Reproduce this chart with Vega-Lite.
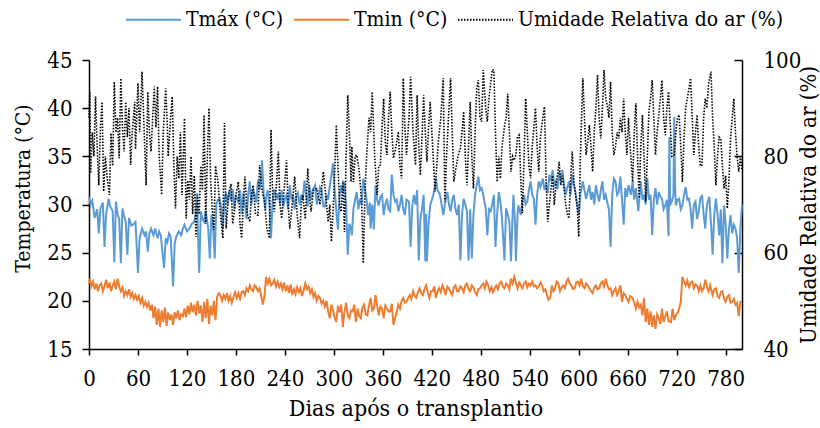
{
"$schema":"https://vega.github.io/schema/vega-lite/v6.json",
"width":653,"height":289,
"autosize":{"type":"none"},
"padding":{"left":89,"top":60,"right":78,"bottom":79},
"background":"white",
"config":{"view":{"stroke":null},"font":"DejaVu Serif Condensed, DejaVu Serif",
"axis":{"labelFont":"DejaVu Serif Condensed, DejaVu Serif","titleFont":"DejaVu Serif Condensed, DejaVu Serif","labelColor":"#000","titleColor":"#000","domainColor":"#000","tickColor":"#000","domainWidth":1.5,"tickWidth":1.5,"grid":false,"labelFontSize":22,"titleFontSize":22,"titleFontWeight":"normal"},
"legend":{"labelFont":"DejaVu Serif Condensed, DejaVu Serif","labelFontSize":21,"labelColor":"#000","labelLimit":0}},
"datasets":{
"tx":[{"d":0,"v":30.8},{"d":2,"v":30.0},{"d":4,"v":30.4},{"d":7,"v":28.6},{"d":10,"v":29.5},{"d":12,"v":27.0},{"d":14,"v":29.6},{"d":17,"v":30.2},{"d":19,"v":25.6},{"d":21,"v":29.0},{"d":24,"v":30.6},{"d":26,"v":29.8},{"d":29,"v":29.3},{"d":31,"v":24.0},{"d":33,"v":30.3},{"d":35,"v":29.0},{"d":37,"v":28.5},{"d":39,"v":23.9},{"d":41,"v":29.6},{"d":43,"v":28.8},{"d":45,"v":28.2},{"d":47,"v":24.8},{"d":49,"v":28.6},{"d":52,"v":27.8},{"d":55,"v":28.0},{"d":57,"v":28.2},{"d":60,"v":22.9},{"d":62,"v":26.5},{"d":65,"v":27.5},{"d":68,"v":26.8},{"d":70,"v":27.2},{"d":72,"v":25.1},{"d":74,"v":27.0},{"d":76,"v":27.5},{"d":79,"v":26.8},{"d":81,"v":27.5},{"d":84,"v":26.5},{"d":86,"v":27.2},{"d":88,"v":26.8},{"d":90,"v":25.0},{"d":92,"v":23.4},{"d":94,"v":26.5},{"d":96,"v":26.1},{"d":98,"v":27.0},{"d":100,"v":26.7},{"d":103,"v":21.5},{"d":105,"v":26.0},{"d":107,"v":26.7},{"d":110,"v":27.2},{"d":113,"v":26.8},{"d":115,"v":27.5},{"d":117,"v":27.9},{"d":120,"v":27.2},{"d":123,"v":27.5},{"d":126,"v":28.0},{"d":129,"v":28.2},{"d":131,"v":29.0},{"d":132,"v":31.2},{"d":135,"v":22.9},{"d":137,"v":29.3},{"d":139,"v":28.5},{"d":141,"v":28.2},{"d":143,"v":29.3},{"d":146,"v":27.5},{"d":148,"v":24.4},{"d":150,"v":28.9},{"d":152,"v":27.8},{"d":154,"v":24.4},{"d":156,"v":30.0},{"d":158,"v":30.5},{"d":160,"v":30.6},
{"d":162,"v":29.8},{"d":164,"v":27.5},{"d":166,"v":30.5},{"d":168,"v":31.2},{"d":170,"v":30.0},{"d":172,"v":31.5},{"d":174,"v":30.4},{"d":176,"v":31.6},{"d":178,"v":29.5},{"d":180,"v":31.0},{"d":183,"v":30.2},{"d":185,"v":31.5},{"d":187,"v":29.0},{"d":189,"v":31.2},{"d":191,"v":30.0},{"d":193,"v":28.5},{"d":195,"v":31.0},{"d":197,"v":32.4},{"d":199,"v":30.0},{"d":201,"v":31.5},{"d":203,"v":31.0},{"d":205,"v":30.2},{"d":207,"v":32.5},{"d":209,"v":31.5},{"d":211,"v":33.0},{"d":212,"v":34.6},{"d":214,"v":31.0},{"d":216,"v":29.5},{"d":217,"v":30.8},{"d":219,"v":31.5},{"d":221,"v":30.0},{"d":223,"v":26.5},{"d":225,"v":30.5},{"d":227,"v":31.6},{"d":230,"v":30.5},{"d":232,"v":31.2},{"d":234,"v":30.0},{"d":236,"v":31.5},{"d":238,"v":29.8},{"d":240,"v":30.6},{"d":242,"v":31.0},{"d":244,"v":29.5},{"d":246,"v":32.0},{"d":248,"v":30.5},{"d":250,"v":31.0},{"d":252,"v":29.5},{"d":254,"v":30.8},{"d":256,"v":31.2},{"d":258,"v":30.0},{"d":260,"v":31.0},{"d":262,"v":30.5},{"d":264,"v":32.5},{"d":266,"v":31.0},{"d":268,"v":29.8},{"d":270,"v":32.0},{"d":272,"v":30.5},{"d":274,"v":31.5},{"d":277,"v":32.0},{"d":279,"v":30.0},{"d":281,"v":30.8},{"d":283,"v":31.8},{"d":285,"v":31.5},{"d":287,"v":29.8},{"d":289,"v":29.8},{"d":291,"v":31.0},{"d":293,"v":30.5},{"d":295,"v":32.0},{"d":297,"v":33.0},{"d":299,"v":34.3},{"d":301,"v":31.5},{"d":303,"v":29.3},{"d":305,"v":27.4},{"d":307,"v":31.0},{"d":309,"v":32.0},{"d":311,"v":31.2},{"d":313,"v":32.4},{"d":315,"v":30.0},{"d":317,"v":24.8},{"d":319,"v":28.0},{"d":321,"v":27.5},
{"d":322,"v":26.8},{"d":324,"v":29.6},{"d":326,"v":30.5},{"d":328,"v":31.3},{"d":330,"v":29.5},{"d":332,"v":30.6},{"d":334,"v":30.0},{"d":336,"v":32.7},{"d":338,"v":31.7},{"d":340,"v":30.5},{"d":342,"v":28.9},{"d":344,"v":30.2},{"d":345,"v":27.5},{"d":347,"v":30.0},{"d":349,"v":27.4},{"d":351,"v":32.0},{"d":353,"v":30.5},{"d":355,"v":29.9},{"d":357,"v":30.8},{"d":359,"v":31.0},{"d":361,"v":28.9},{"d":363,"v":30.0},{"d":365,"v":30.6},{"d":367,"v":29.5},{"d":369,"v":29.3},{"d":371,"v":33.1},{"d":373,"v":31.0},{"d":375,"v":30.3},{"d":377,"v":30.5},{"d":379,"v":29.3},{"d":381,"v":30.0},{"d":383,"v":31.0},{"d":385,"v":29.5},{"d":387,"v":28.9},{"d":389,"v":30.5},{"d":392,"v":30.3},{"d":394,"v":25.6},{"d":396,"v":29.8},{"d":398,"v":31.0},{"d":400,"v":30.0},{"d":402,"v":31.5},{"d":404,"v":24.2},{"d":406,"v":28.5},{"d":408,"v":29.6},{"d":410,"v":31.0},{"d":412,"v":24.1},{"d":413,"v":29.0},{"d":414,"v":24.1},{"d":416,"v":28.0},{"d":418,"v":29.9},{"d":420,"v":30.5},{"d":422,"v":31.0},{"d":425,"v":32.7},{"d":427,"v":31.5},{"d":430,"v":31.0},{"d":432,"v":30.0},{"d":434,"v":28.9},{"d":437,"v":30.5},{"d":439,"v":31.3},{"d":441,"v":30.0},{"d":443,"v":29.3},{"d":445,"v":30.5},{"d":447,"v":31.0},{"d":449,"v":29.5},{"d":451,"v":28.9},{"d":453,"v":30.0},{"d":455,"v":24.2},{"d":457,"v":29.0},{"d":459,"v":30.6},{"d":461,"v":30.0},{"d":463,"v":29.3},{"d":465,"v":24.2},{"d":467,"v":29.5},{"d":469,"v":24.4},{"d":471,"v":29.0},{"d":473,"v":31.0},{"d":475,"v":32.0},{"d":477,"v":32.9},{"d":479,"v":31.5},{"d":481,"v":31.7},{"d":483,"v":31.0},
{"d":486,"v":29.6},{"d":488,"v":26.8},{"d":490,"v":29.5},{"d":492,"v":29.3},{"d":494,"v":30.0},{"d":496,"v":31.0},{"d":498,"v":25.6},{"d":500,"v":29.0},{"d":502,"v":31.3},{"d":504,"v":30.3},{"d":506,"v":28.5},{"d":509,"v":24.2},{"d":511,"v":29.6},{"d":513,"v":29.0},{"d":515,"v":28.2},{"d":517,"v":24.1},{"d":519,"v":29.0},{"d":520,"v":31.0},{"d":522,"v":28.0},{"d":523,"v":24.1},{"d":525,"v":29.0},{"d":526,"v":29.9},{"d":529,"v":28.9},{"d":531,"v":30.5},{"d":533,"v":31.0},{"d":535,"v":30.0},{"d":537,"v":30.3},{"d":539,"v":31.5},{"d":541,"v":32.4},{"d":543,"v":31.0},{"d":545,"v":30.6},{"d":547,"v":27.9},{"d":549,"v":31.0},{"d":551,"v":32.4},{"d":553,"v":31.8},{"d":556,"v":32.7},{"d":558,"v":31.5},{"d":560,"v":32.0},{"d":562,"v":31.2},{"d":564,"v":33.1},{"d":566,"v":32.4},{"d":568,"v":33.6},{"d":570,"v":32.0},{"d":572,"v":32.4},{"d":574,"v":31.6},{"d":576,"v":33.4},{"d":578,"v":32.5},{"d":580,"v":33.6},{"d":582,"v":32.0},{"d":584,"v":31.0},{"d":586,"v":31.8},{"d":588,"v":32.4},{"d":590,"v":31.0},{"d":592,"v":33.1},{"d":594,"v":32.0},{"d":596,"v":31.3},{"d":598,"v":30.0},{"d":600,"v":28.9},{"d":602,"v":31.0},{"d":605,"v":32.4},{"d":607,"v":31.5},{"d":609,"v":30.6},{"d":611,"v":31.3},{"d":613,"v":32.0},{"d":615,"v":30.5},{"d":617,"v":31.3},{"d":619,"v":30.0},{"d":621,"v":32.0},{"d":623,"v":31.0},{"d":625,"v":30.3},{"d":627,"v":31.5},{"d":629,"v":32.4},{"d":631,"v":30.5},{"d":633,"v":31.0},{"d":635,"v":30.2},{"d":637,"v":29.5},{"d":639,"v":25.6},{"d":641,"v":31.0},{"d":643,"v":32.7},{"d":645,"v":32.4},
{"d":647,"v":31.0},{"d":649,"v":31.3},{"d":651,"v":32.9},{"d":653,"v":30.5},{"d":655,"v":27.9},{"d":657,"v":31.7},{"d":659,"v":30.8},{"d":661,"v":32.0},{"d":664,"v":31.0},{"d":666,"v":32.4},{"d":668,"v":30.5},{"d":670,"v":31.7},{"d":673,"v":29.3},{"d":676,"v":32.4},{"d":678,"v":30.5},{"d":680,"v":31.0},{"d":682,"v":30.0},{"d":684,"v":32.7},{"d":686,"v":30.5},{"d":688,"v":31.0},{"d":690,"v":26.8},{"d":692,"v":30.5},{"d":694,"v":31.7},{"d":696,"v":30.0},{"d":698,"v":31.3},{"d":700,"v":30.8},{"d":702,"v":30.6},{"d":704,"v":29.5},{"d":706,"v":29.9},{"d":708,"v":30.5},{"d":710,"v":26.7},{"d":711,"v":37.0},{"d":712,"v":30.0},{"d":714,"v":30.3},{"d":716,"v":31.0},{"d":717,"v":39.1},{"d":718,"v":32.0},{"d":719,"v":29.9},{"d":721,"v":30.5},{"d":723,"v":30.6},{"d":725,"v":29.5},{"d":727,"v":29.9},{"d":729,"v":31.0},{"d":731,"v":31.8},{"d":733,"v":30.5},{"d":735,"v":30.6},{"d":737,"v":29.5},{"d":739,"v":27.5},{"d":741,"v":30.0},{"d":743,"v":30.3},{"d":745,"v":28.5},{"d":747,"v":29.3},{"d":749,"v":30.6},{"d":751,"v":31.0},{"d":753,"v":29.0},{"d":755,"v":27.5},{"d":757,"v":30.0},{"d":760,"v":30.8},{"d":762,"v":28.0},{"d":764,"v":24.8},{"d":766,"v":29.0},{"d":768,"v":30.6},{"d":770,"v":29.0},{"d":772,"v":26.8},{"d":774,"v":29.5},{"d":776,"v":23.9},{"d":778,"v":29.9},{"d":780,"v":28.0},{"d":782,"v":24.4},{"d":784,"v":27.5},{"d":786,"v":28.9},{"d":788,"v":27.0},{"d":790,"v":27.9},{"d":792,"v":27.5},{"d":794,"v":26.5},{"d":796,"v":22.9},{"d":798,"v":27.5},{"d":800,"v":30.0}],
"tn":[{"d":0,"v":21.8},{"d":1,"v":22.3},{"d":3,"v":21.5},{"d":5,"v":22.0},{"d":7,"v":21.2},{"d":9,"v":21.8},{"d":11,"v":21.0},{"d":13,"v":21.6},{"d":15,"v":21.8},{"d":17,"v":21.0},{"d":19,"v":21.5},{"d":21,"v":22.2},{"d":23,"v":21.3},{"d":25,"v":21.9},{"d":27,"v":21.0},{"d":29,"v":21.6},{"d":31,"v":22.0},{"d":33,"v":21.2},{"d":35,"v":22.3},{"d":37,"v":21.5},{"d":39,"v":21.0},{"d":41,"v":21.4},{"d":43,"v":20.5},{"d":45,"v":21.0},{"d":47,"v":20.6},{"d":49,"v":21.2},{"d":51,"v":20.4},{"d":53,"v":20.8},{"d":55,"v":20.2},{"d":57,"v":20.6},{"d":59,"v":20.1},{"d":61,"v":20.5},{"d":63,"v":19.8},{"d":65,"v":20.3},{"d":67,"v":19.5},{"d":69,"v":19.9},{"d":71,"v":19.4},{"d":73,"v":19.8},{"d":75,"v":19.0},{"d":77,"v":19.6},{"d":79,"v":18.2},{"d":81,"v":19.4},{"d":83,"v":17.5},{"d":85,"v":19.2},{"d":87,"v":17.3},{"d":89,"v":19.0},{"d":91,"v":17.8},{"d":93,"v":19.3},{"d":95,"v":17.4},{"d":97,"v":18.8},{"d":99,"v":18.0},{"d":101,"v":18.6},{"d":103,"v":17.5},{"d":105,"v":18.8},{"d":107,"v":18.2},{"d":109,"v":19.0},{"d":111,"v":18.0},{"d":113,"v":18.6},{"d":115,"v":18.4},{"d":117,"v":19.2},{"d":119,"v":18.3},{"d":121,"v":19.5},{"d":123,"v":18.6},{"d":125,"v":19.8},{"d":127,"v":18.8},{"d":129,"v":19.6},{"d":131,"v":18.5},{"d":133,"v":20.0},{"d":135,"v":18.7},{"d":137,"v":19.5},{"d":139,"v":17.8},{"d":141,"v":19.9},{"d":143,"v":18.2},{"d":145,"v":20.2},{"d":147,"v":17.6},{"d":149,"v":19.5},{"d":151,"v":18.5},{"d":153,"v":20.0},{"d":155,"v":18.0},{"d":157,"v":20.4},{"d":159,"v":20.8},
{"d":161,"v":20.6},{"d":163,"v":20.0},{"d":165,"v":20.6},{"d":167,"v":20.2},{"d":169,"v":20.8},{"d":171,"v":20.0},{"d":173,"v":20.5},{"d":175,"v":19.8},{"d":177,"v":20.4},{"d":179,"v":20.9},{"d":181,"v":20.3},{"d":183,"v":20.8},{"d":185,"v":20.2},{"d":187,"v":20.9},{"d":189,"v":21.0},{"d":191,"v":20.6},{"d":193,"v":21.3},{"d":195,"v":21.0},{"d":197,"v":21.6},{"d":199,"v":21.2},{"d":201,"v":21.0},{"d":203,"v":21.6},{"d":205,"v":21.4},{"d":207,"v":21.0},{"d":209,"v":21.3},{"d":211,"v":20.5},{"d":213,"v":19.6},{"d":215,"v":20.5},{"d":217,"v":22.5},{"d":219,"v":21.8},{"d":221,"v":22.3},{"d":223,"v":21.6},{"d":225,"v":21.8},{"d":227,"v":22.2},{"d":229,"v":21.5},{"d":231,"v":22.0},{"d":233,"v":21.4},{"d":235,"v":21.8},{"d":237,"v":21.2},{"d":239,"v":21.9},{"d":241,"v":21.0},{"d":243,"v":21.6},{"d":245,"v":20.8},{"d":247,"v":21.7},{"d":249,"v":20.6},{"d":251,"v":21.2},{"d":253,"v":20.7},{"d":255,"v":21.4},{"d":257,"v":20.9},{"d":259,"v":21.3},{"d":261,"v":20.5},{"d":263,"v":21.1},{"d":265,"v":21.8},{"d":267,"v":21.2},{"d":269,"v":21.5},{"d":271,"v":20.8},{"d":273,"v":21.2},{"d":275,"v":20.4},{"d":277,"v":20.8},{"d":279,"v":20.0},{"d":281,"v":20.5},{"d":283,"v":20.3},{"d":285,"v":19.7},{"d":287,"v":20.0},{"d":289,"v":19.4},{"d":291,"v":20.0},{"d":293,"v":18.9},{"d":295,"v":18.2},{"d":297,"v":19.6},{"d":299,"v":19.0},{"d":301,"v":18.3},{"d":303,"v":17.8},{"d":305,"v":19.5},{"d":307,"v":18.8},{"d":309,"v":19.6},{"d":311,"v":17.3},{"d":313,"v":18.9},{"d":315,"v":19.8},{"d":317,"v":18.5},{"d":319,"v":18.2},{"d":321,"v":19.0},
{"d":323,"v":18.9},{"d":325,"v":19.6},{"d":327,"v":17.8},{"d":329,"v":19.2},{"d":331,"v":18.4},{"d":333,"v":18.2},{"d":335,"v":19.3},{"d":337,"v":19.6},{"d":339,"v":18.6},{"d":341,"v":18.5},{"d":343,"v":19.5},{"d":345,"v":20.3},{"d":347,"v":19.0},{"d":349,"v":19.2},{"d":351,"v":20.6},{"d":353,"v":19.5},{"d":355,"v":18.5},{"d":357,"v":19.4},{"d":359,"v":19.2},{"d":361,"v":18.2},{"d":363,"v":19.5},{"d":365,"v":19.2},{"d":367,"v":18.9},{"d":369,"v":18.9},{"d":371,"v":19.7},{"d":373,"v":17.5},{"d":375,"v":18.2},{"d":377,"v":18.9},{"d":379,"v":19.6},{"d":381,"v":19.2},{"d":383,"v":20.0},{"d":385,"v":20.3},{"d":387,"v":19.8},{"d":389,"v":19.9},{"d":391,"v":20.3},{"d":393,"v":20.6},{"d":395,"v":20.2},{"d":397,"v":21.0},{"d":399,"v":20.5},{"d":401,"v":20.3},{"d":403,"v":20.9},{"d":405,"v":21.3},{"d":407,"v":20.8},{"d":409,"v":20.6},{"d":411,"v":21.2},{"d":413,"v":21.6},{"d":415,"v":20.9},{"d":417,"v":20.3},{"d":419,"v":21.0},{"d":421,"v":21.0},{"d":423,"v":21.5},{"d":425,"v":20.3},{"d":427,"v":21.0},{"d":429,"v":21.3},{"d":431,"v":20.9},{"d":433,"v":21.6},{"d":435,"v":21.2},{"d":437,"v":20.6},{"d":439,"v":21.5},{"d":441,"v":21.3},{"d":443,"v":20.9},{"d":445,"v":20.6},{"d":447,"v":21.4},{"d":449,"v":21.6},{"d":451,"v":21.0},{"d":453,"v":21.0},{"d":455,"v":21.5},{"d":457,"v":21.3},{"d":459,"v":20.9},{"d":461,"v":21.6},{"d":463,"v":21.8},{"d":465,"v":21.2},{"d":467,"v":21.0},{"d":469,"v":21.6},{"d":471,"v":21.4},{"d":473,"v":20.9},{"d":475,"v":20.6},{"d":477,"v":21.2},{"d":479,"v":21.3},{"d":481,"v":21.6},{"d":483,"v":21.8},
{"d":485,"v":21.3},{"d":487,"v":22.0},{"d":489,"v":21.6},{"d":491,"v":21.0},{"d":493,"v":21.4},{"d":495,"v":20.9},{"d":497,"v":21.3},{"d":499,"v":21.6},{"d":501,"v":21.2},{"d":503,"v":21.8},{"d":505,"v":22.0},{"d":507,"v":21.5},{"d":509,"v":21.3},{"d":511,"v":21.8},{"d":513,"v":21.6},{"d":515,"v":21.2},{"d":517,"v":22.3},{"d":519,"v":21.8},{"d":521,"v":22.5},{"d":523,"v":21.9},{"d":525,"v":21.3},{"d":527,"v":21.9},{"d":529,"v":21.6},{"d":531,"v":21.3},{"d":533,"v":21.8},{"d":535,"v":22.0},{"d":537,"v":21.4},{"d":539,"v":21.8},{"d":541,"v":21.6},{"d":543,"v":22.0},{"d":545,"v":21.5},{"d":547,"v":21.6},{"d":549,"v":21.3},{"d":551,"v":21.5},{"d":553,"v":21.9},{"d":555,"v":21.6},{"d":557,"v":21.0},{"d":559,"v":21.2},{"d":561,"v":20.6},{"d":563,"v":20.1},{"d":565,"v":20.3},{"d":567,"v":21.6},{"d":569,"v":21.0},{"d":571,"v":21.3},{"d":573,"v":22.0},{"d":575,"v":21.8},{"d":577,"v":21.0},{"d":579,"v":21.4},{"d":581,"v":21.6},{"d":583,"v":21.3},{"d":585,"v":22.0},{"d":587,"v":22.3},{"d":589,"v":21.8},{"d":591,"v":21.6},{"d":593,"v":21.2},{"d":595,"v":21.3},{"d":597,"v":21.9},{"d":599,"v":22.0},{"d":601,"v":21.6},{"d":603,"v":22.3},{"d":605,"v":21.5},{"d":607,"v":21.3},{"d":609,"v":21.8},{"d":611,"v":21.6},{"d":613,"v":21.3},{"d":615,"v":21.0},{"d":617,"v":20.8},{"d":619,"v":21.4},{"d":621,"v":21.6},{"d":623,"v":21.2},{"d":625,"v":21.3},{"d":627,"v":21.8},{"d":629,"v":22.0},{"d":631,"v":21.5},{"d":633,"v":22.3},{"d":635,"v":21.6},{"d":637,"v":21.2},{"d":639,"v":21.3},{"d":641,"v":20.6},{"d":643,"v":21.0},{"d":645,"v":21.3},
{"d":647,"v":20.6},{"d":649,"v":21.0},{"d":651,"v":21.6},{"d":653,"v":19.9},{"d":655,"v":20.8},{"d":657,"v":20.6},{"d":659,"v":20.2},{"d":661,"v":19.9},{"d":663,"v":20.5},{"d":666,"v":20.3},{"d":668,"v":19.8},{"d":670,"v":19.2},{"d":672,"v":19.9},{"d":674,"v":19.3},{"d":676,"v":19.6},{"d":678,"v":18.5},{"d":680,"v":20.3},{"d":682,"v":17.8},{"d":684,"v":19.2},{"d":686,"v":17.5},{"d":688,"v":18.9},{"d":690,"v":17.3},{"d":692,"v":18.5},{"d":694,"v":17.1},{"d":696,"v":18.6},{"d":698,"v":18.2},{"d":700,"v":17.6},{"d":702,"v":19.2},{"d":704,"v":17.8},{"d":706,"v":18.4},{"d":708,"v":18.9},{"d":710,"v":17.9},{"d":713,"v":17.8},{"d":715,"v":19.2},{"d":717,"v":18.0},{"d":719,"v":18.5},{"d":721,"v":18.7},{"d":723,"v":19.2},{"d":725,"v":19.9},{"d":727,"v":22.5},{"d":729,"v":22.0},{"d":731,"v":21.6},{"d":733,"v":22.1},{"d":735,"v":21.3},{"d":737,"v":21.9},{"d":739,"v":22.0},{"d":741,"v":21.3},{"d":743,"v":21.7},{"d":745,"v":21.6},{"d":747,"v":21.0},{"d":749,"v":21.6},{"d":751,"v":21.0},{"d":753,"v":21.3},{"d":755,"v":22.2},{"d":757,"v":21.5},{"d":759,"v":21.0},{"d":761,"v":21.6},{"d":764,"v":20.6},{"d":766,"v":21.2},{"d":768,"v":21.3},{"d":770,"v":20.5},{"d":772,"v":20.3},{"d":774,"v":20.9},{"d":776,"v":21.0},{"d":778,"v":20.2},{"d":780,"v":19.9},{"d":782,"v":20.4},{"d":784,"v":20.6},{"d":786,"v":19.8},{"d":788,"v":19.9},{"d":790,"v":20.2},{"d":792,"v":19.6},{"d":794,"v":19.8},{"d":796,"v":18.4},{"d":798,"v":19.9},{"d":800,"v":19.9}],
"rh":[{"d":0,"v":88},{"d":1,"v":93.4},{"d":2,"v":76.5},{"d":4,"v":85},{"d":6,"v":80},{"d":8,"v":92.4},{"d":10,"v":82},{"d":12,"v":74},{"d":14,"v":86},{"d":16,"v":91.3},{"d":18,"v":72.7},{"d":20,"v":80},{"d":22,"v":76},{"d":25,"v":72},{"d":27,"v":84.8},{"d":29,"v":78},{"d":31,"v":95.5},{"d":33,"v":85},{"d":35,"v":88},{"d":37,"v":79.6},{"d":39,"v":96.2},{"d":41,"v":86},{"d":43,"v":81},{"d":45,"v":91.3},{"d":47,"v":84},{"d":49,"v":90},{"d":51,"v":78.2},{"d":53,"v":85},{"d":56,"v":91.3},{"d":57,"v":81.5},{"d":60,"v":95.2},{"d":62,"v":85},{"d":65,"v":97.6},{"d":67,"v":88},{"d":70,"v":74},{"d":72,"v":93.4},{"d":74,"v":85},{"d":76,"v":81},{"d":78,"v":88},{"d":80,"v":94.5},{"d":82,"v":86},{"d":84,"v":94.5},{"d":86,"v":80},{"d":89,"v":72},{"d":91,"v":85},{"d":94,"v":94.1},{"d":96,"v":86},{"d":97,"v":80},{"d":100,"v":88},{"d":102,"v":92.4},{"d":104,"v":78},{"d":106,"v":69.2},{"d":108,"v":80},{"d":110,"v":75.4},{"d":112,"v":85},{"d":114,"v":72},{"d":117,"v":87.9},{"d":119,"v":67.1},{"d":121,"v":75},{"d":123,"v":71},{"d":125,"v":80},{"d":127,"v":68},{"d":129,"v":76},{"d":131,"v":63.3},{"d":133,"v":72},{"d":135,"v":68},{"d":137,"v":78},{"d":139,"v":73},{"d":141,"v":88.6},{"d":143,"v":66},{"d":145,"v":80},{"d":147,"v":90},{"d":149,"v":75},{"d":151,"v":69},{"d":153,"v":64.7},{"d":155,"v":78},
{"d":158,"v":74.7},{"d":161,"v":68},{"d":164,"v":63},{"d":166,"v":86.9},{"d":168,"v":65},{"d":171,"v":72},{"d":174,"v":74.3},{"d":176,"v":66},{"d":178,"v":68.5},{"d":180,"v":72},{"d":183,"v":74.7},{"d":185,"v":66},{"d":187,"v":63},{"d":189,"v":70},{"d":191,"v":75.8},{"d":194,"v":68},{"d":197,"v":66.4},{"d":199,"v":72},{"d":201,"v":74},{"d":204,"v":68},{"d":207,"v":67.8},{"d":209,"v":78.2},{"d":212,"v":73},{"d":215,"v":70.6},{"d":218,"v":65},{"d":221,"v":63},{"d":223,"v":85.5},{"d":225,"v":72},{"d":227,"v":68.5},{"d":230,"v":75},{"d":232,"v":81},{"d":234,"v":70},{"d":236,"v":67.1},{"d":239,"v":73},{"d":242,"v":79.2},{"d":244,"v":70},{"d":246,"v":65},{"d":249,"v":70},{"d":252,"v":75.8},{"d":255,"v":68},{"d":258,"v":63},{"d":260,"v":70},{"d":262,"v":72},{"d":265,"v":67},{"d":268,"v":77.5},{"d":270,"v":72},{"d":272,"v":68.5},{"d":275,"v":73},{"d":279,"v":73.3},{"d":283,"v":70},{"d":287,"v":76.8},{"d":290,"v":72},{"d":293,"v":66.4},{"d":295,"v":70},{"d":297,"v":62.3},{"d":300,"v":72},{"d":303,"v":86.5},{"d":305,"v":78},{"d":307,"v":70},{"d":309,"v":68.5},{"d":311,"v":75},{"d":313,"v":64.3},{"d":315,"v":80},{"d":317,"v":92.7},{"d":319,"v":85},{"d":321,"v":74.7},
{"d":322,"v":82},{"d":324,"v":74.7},{"d":326,"v":80},{"d":328,"v":80.3},{"d":331,"v":77},{"d":334,"v":70.6},{"d":336,"v":57.8},{"d":338,"v":72},{"d":340,"v":79.6},{"d":343,"v":88},{"d":345,"v":85},{"d":347,"v":93.4},{"d":350,"v":80},{"d":353,"v":72},{"d":355,"v":78},{"d":357,"v":78.2},{"d":359,"v":86},{"d":361,"v":92},{"d":363,"v":83},{"d":365,"v":80.3},{"d":367,"v":88},{"d":369,"v":93.4},{"d":371,"v":85},{"d":373,"v":79.6},{"d":376,"v":82},{"d":379,"v":85.1},{"d":381,"v":78},{"d":383,"v":75.4},{"d":385,"v":96.2},{"d":387,"v":86},{"d":389,"v":80.3},{"d":392,"v":88},{"d":394,"v":96.5},{"d":397,"v":85},{"d":400,"v":78.2},{"d":402,"v":92.7},{"d":404,"v":82},{"d":406,"v":76.1},{"d":408,"v":84},{"d":410,"v":92.7},{"d":412,"v":85},{"d":414,"v":78.9},{"d":416,"v":86},{"d":418,"v":91.3},{"d":421,"v":82},{"d":424,"v":72.7},{"d":426,"v":78},{"d":428,"v":83},{"d":431,"v":88},{"d":434,"v":96.2},{"d":436,"v":70.6},{"d":438,"v":80},{"d":441,"v":90},{"d":443,"v":96.2},{"d":445,"v":85},{"d":447,"v":74.7},{"d":450,"v":78},{"d":452,"v":80},{"d":455,"v":81.7},{"d":457,"v":85},{"d":459,"v":89.3},{"d":461,"v":80},{"d":463,"v":74},{"d":465,"v":82},{"d":467,"v":91.3},{"d":469,"v":80},{"d":471,"v":73.3},{"d":473,"v":85},{"d":475,"v":94.1},{"d":477,"v":95.8},{"d":479,"v":88},{"d":481,"v":87.2},{"d":483,"v":97.9},
{"d":486,"v":90},{"d":488,"v":87.2},{"d":490,"v":92},{"d":492,"v":95.1},{"d":494,"v":98},{"d":496,"v":97.9},{"d":498,"v":85},{"d":500,"v":74.7},{"d":502,"v":80},{"d":504,"v":75.4},{"d":506,"v":82},{"d":509,"v":86.2},{"d":511,"v":88},{"d":513,"v":93},{"d":515,"v":85},{"d":517,"v":76.8},{"d":519,"v":80},{"d":521,"v":79.2},{"d":523,"v":80.3},{"d":525,"v":84},{"d":527,"v":84.4},{"d":529,"v":75},{"d":531,"v":68.2},{"d":533,"v":80},{"d":535,"v":92},{"d":537,"v":85},{"d":539,"v":78},{"d":541,"v":75.4},{"d":543,"v":82},{"d":545,"v":86},{"d":547,"v":90},{"d":549,"v":82},{"d":551,"v":76.8},{"d":553,"v":84},{"d":556,"v":88},{"d":558,"v":90.3},{"d":560,"v":75},{"d":562,"v":66.4},{"d":564,"v":70},{"d":566,"v":73.3},{"d":568,"v":76},{"d":570,"v":69.9},{"d":572,"v":74},{"d":574,"v":76},{"d":576,"v":78.9},{"d":578,"v":74},{"d":580,"v":76},{"d":582,"v":73.3},{"d":584,"v":70},{"d":586,"v":68},{"d":588,"v":67.1},{"d":590,"v":75},{"d":592,"v":81},{"d":594,"v":75},{"d":596,"v":72},{"d":598,"v":69.9},{"d":600,"v":63.3},{"d":602,"v":80},{"d":605,"v":96.2},{"d":607,"v":88},{"d":609,"v":80.3},{"d":611,"v":83},{"d":613,"v":86.5},{"d":615,"v":82},{"d":617,"v":76.8},{"d":619,"v":85},{"d":621,"v":90},{"d":623,"v":96.9},{"d":625,"v":88},{"d":627,"v":83.7},{"d":629,"v":90},{"d":631,"v":97.9},{"d":633,"v":92},{"d":635,"v":90.6},{"d":637,"v":88},{"d":639,"v":95.5},{"d":641,"v":85},{"d":643,"v":80.3},{"d":645,"v":82},
{"d":647,"v":85},{"d":649,"v":83.7},{"d":651,"v":88},{"d":653,"v":85},{"d":655,"v":92},{"d":657,"v":85},{"d":659,"v":80.3},{"d":661,"v":88},{"d":663,"v":82},{"d":666,"v":74.7},{"d":668,"v":85},{"d":670,"v":91},{"d":672,"v":80},{"d":674,"v":71.3},{"d":676,"v":82},{"d":678,"v":88.6},{"d":680,"v":80},{"d":682,"v":70.6},{"d":684,"v":80},{"d":686,"v":89.3},{"d":688,"v":92},{"d":690,"v":95.8},{"d":692,"v":88},{"d":694,"v":80.3},{"d":696,"v":85},{"d":698,"v":88.6},{"d":700,"v":92},{"d":702,"v":95.8},{"d":704,"v":88},{"d":706,"v":84.4},{"d":708,"v":90},{"d":710,"v":93.4},{"d":712,"v":87},{"d":714,"v":80},{"d":717,"v":80.3},{"d":719,"v":85},{"d":721,"v":88},{"d":723,"v":88.6},{"d":725,"v":82},{"d":727,"v":74.7},{"d":729,"v":84},{"d":731,"v":90},{"d":733,"v":92},{"d":735,"v":94},{"d":737,"v":96.2},{"d":739,"v":88},{"d":741,"v":80.3},{"d":743,"v":85},{"d":745,"v":88.6},{"d":747,"v":82},{"d":749,"v":78},{"d":751,"v":78.2},{"d":753,"v":88},{"d":755,"v":92},{"d":757,"v":90},{"d":759,"v":95},{"d":762,"v":97.6},{"d":764,"v":88},{"d":766,"v":82},{"d":768,"v":74},{"d":770,"v":80},{"d":772,"v":84},{"d":774,"v":83.7},{"d":776,"v":78},{"d":778,"v":73.3},{"d":780,"v":76},{"d":782,"v":69.2},{"d":784,"v":75},{"d":786,"v":83.7},{"d":788,"v":88},{"d":790,"v":92},{"d":792,"v":85},{"d":794,"v":80},{"d":796,"v":76.8},{"d":798,"v":80},{"d":800,"v":77}]
},
"layer":[
{"layer":[
{"data":{"name":"tx"},"mark":{"type":"line","strokeWidth":2,"interpolate":"linear"},
"encoding":{
"x":{"field":"d","type":"quantitative","scale":{"domain":[0,800],"nice":false,"zero":false},"axis":{"values":[0,60,120,180,240,300,360,420,480,540,600,660,720,780],"title":"Dias após o transplantio","titleFontSize":23,"tickSize":6,"labelPadding":13,"titlePadding":8,"labelFlush":false}},
"y":{"field":"v","type":"quantitative","scale":{"domain":[15,45],"nice":false,"zero":false},"axis":{"values":[15,20,25,30,35,40,45],"title":"Temperatura (°C)","titleFontSize":21,"tickSize":7,"labelPadding":10,"titleX":-66,"titleY":128,"titleBaseline":"middle","titleAngle":270,"labelFlush":false}},
"color":{"datum":"Tmáx (°C)","type":"nominal","scale":{"domain":["Tmáx (°C)","Tmin (°C)","Umidade Relativa do ar (%)"],"range":["#5B9BD5","#ED7D31","#000000"]},"legend":{"orient":"none","legendX":36,"legendY":-69,"direction":"horizontal","title":null,"symbolType":"stroke","symbolSize":3025,"symbolStrokeWidth":2,"labelOffset":4,"columnPadding":6,"labelLimit":0}},
"strokeDash":{"datum":"Tmáx (°C)","type":"nominal","scale":{"domain":["Tmáx (°C)","Tmin (°C)","Umidade Relativa do ar (%)"],"range":[[1,0],[1,0],[1.5,1.5]]}}}},
{"data":{"name":"tn"},"mark":{"type":"line","strokeWidth":2},
"encoding":{
"x":{"field":"d","type":"quantitative"},
"y":{"field":"v","type":"quantitative"},
"color":{"datum":"Tmin (°C)","type":"nominal"},
"strokeDash":{"datum":"Tmin (°C)","type":"nominal"}}}
]},
{"data":{"name":"rh"},"mark":{"type":"line","strokeWidth":1.6},
"encoding":{
"x":{"field":"d","type":"quantitative"},
"y":{"field":"v","type":"quantitative","scale":{"domain":[40,100],"nice":false,"zero":false},"axis":{"orient":"right","values":[40,60,80,100],"title":"Umidade Relativa do ar (%)","titleFontSize":22,"titleAngle":270,"titleX":66,"titleY":144.5,"titleBaseline":"middle","tickSize":-8,"labelPadding":29,"labelFlush":false}},
"color":{"datum":"Umidade Relativa do ar (%)","type":"nominal"},
"strokeDash":{"datum":"Umidade Relativa do ar (%)","type":"nominal"}}}
],
"resolve":{"scale":{"y":"independent"}}
}
